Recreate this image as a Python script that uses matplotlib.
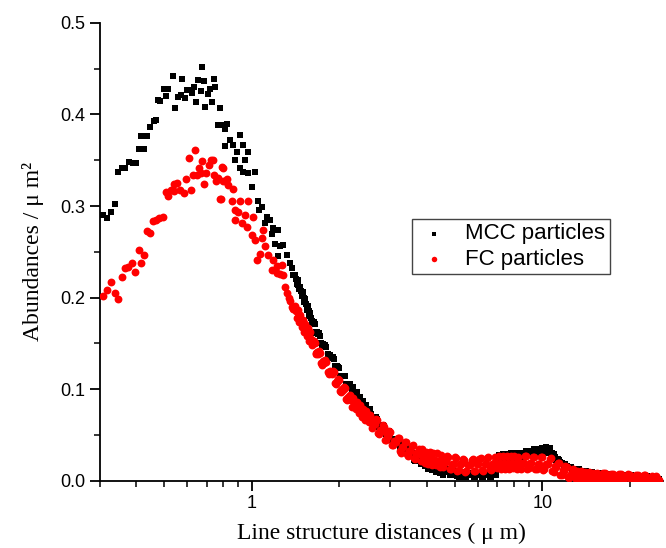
import matplotlib
matplotlib.use("Agg")
from matplotlib import pyplot as plt
from matplotlib import ticker
import numpy as np

# MCC particles, scattered part (x in um, y in 1/um^2)
mcc_x = [0.308, 0.318, 0.329, 0.338, 0.348, 0.358, 0.367, 0.379, 0.390, 0.401,
         0.409, 0.426, 0.417, 0.437, 0.448, 0.461, 0.470, 0.476, 0.486, 0.498,
         0.508, 0.518, 0.536, 0.546, 0.558, 0.573, 0.576, 0.591, 0.599, 0.612,
         0.625, 0.633, 0.645, 0.654, 0.675, 0.668, 0.686, 0.693, 0.708, 0.719,
         0.731, 0.742, 0.750, 0.776, 0.766, 0.791, 0.808, 0.812,
         0.825, 0.912, 0.843, 0.861, 0.936, 0.974, 0.889, 0.877, 0.949, 0.912,
         0.936, 0.974, 1.027, 1.001, 1.055, 1.083, 1.063, 1.127, 1.157, 1.112,
         1.188, 1.236, 1.173, 1.204, 1.253, 1.286, 1.236, 1.321, 1.356, 1.374,
         1.392]
mcc_y = [0.290, 0.287, 0.293, 0.302, 0.337, 0.341, 0.342, 0.348, 0.347, 0.347,
         0.362, 0.362, 0.376, 0.376, 0.386, 0.393, 0.394, 0.416, 0.415, 0.428,
         0.420, 0.428, 0.442, 0.407, 0.419, 0.421, 0.439, 0.418, 0.427, 0.427,
         0.423, 0.430, 0.414, 0.437, 0.452, 0.425, 0.436, 0.408, 0.422, 0.428,
         0.413, 0.439, 0.430, 0.407, 0.388, 0.388, 0.384, 0.366,
         0.390, 0.378, 0.372, 0.367, 0.367, 0.359, 0.359, 0.350, 0.350, 0.341,
         0.337, 0.336, 0.337, 0.321, 0.305, 0.299, 0.296, 0.288, 0.285, 0.281,
         0.276, 0.274, 0.270, 0.259, 0.256, 0.257, 0.245, 0.247, 0.238, 0.232,
         0.225]

# FC particles, scattered part
fc_x = [0.308, 0.318, 0.329, 0.338, 0.348, 0.358, 0.367, 0.377, 0.387, 0.398,
        0.409, 0.417, 0.428, 0.437, 0.448, 0.458, 0.470, 0.482, 0.495, 0.508,
        0.518, 0.529, 0.540, 0.555, 0.543, 0.566, 0.585, 0.596, 0.607, 0.617,
        0.628, 0.637, 0.650, 0.659, 0.671, 0.676, 0.686, 0.698, 0.713, 0.727,
        0.736, 0.742, 0.756, 0.766, 0.783, 0.797, 0.808,
        0.789, 0.799, 0.821, 0.831, 0.865, 0.778, 0.854, 0.912, 0.974, 0.877,
        0.900, 0.877, 0.949, 1.014, 0.925, 0.962, 1.001, 1.097, 1.027, 1.083,
        1.112, 1.069, 1.142, 1.041, 1.188, 1.173, 1.270, 1.220, 1.286, 1.220,
        1.250, 1.300, 1.321, 1.340, 1.360, 1.374, 1.390]
fc_y = [0.202, 0.208, 0.217, 0.205, 0.198, 0.222, 0.232, 0.233, 0.238, 0.228,
        0.252, 0.238, 0.246, 0.273, 0.271, 0.284, 0.285, 0.287, 0.288, 0.315,
        0.311, 0.317, 0.324, 0.325, 0.316, 0.317, 0.314, 0.330, 0.352, 0.317,
        0.334, 0.361, 0.334, 0.341, 0.336, 0.349, 0.324, 0.336, 0.345, 0.350,
        0.350, 0.334, 0.327, 0.331, 0.308, 0.341, 0.327,
        0.343, 0.327, 0.330, 0.323, 0.319, 0.308, 0.305, 0.305, 0.305, 0.296,
        0.294, 0.285, 0.290, 0.288, 0.281, 0.277, 0.268, 0.274, 0.263, 0.265,
        0.256, 0.248, 0.247, 0.241, 0.241, 0.230, 0.236, 0.227, 0.225, 0.234,
        0.226, 0.212, 0.205, 0.200, 0.196, 0.190, 0.188]

# dense tail, first pass of readings (same distances for both series)
x_tail = [1.41, 1.43, 1.45, 1.47, 1.49, 1.51, 1.53, 1.55, 1.57, 1.59,
          1.61, 1.63, 1.65, 1.67, 1.69, 1.72, 1.75, 1.78, 1.81, 1.84,
          1.87, 1.90, 1.93, 1.96, 1.99, 2.02, 2.05, 2.08, 2.11, 2.14,
          2.18, 2.22, 2.26, 2.30, 2.34, 2.38, 2.42, 2.46, 2.50, 2.55,
          2.60, 2.65, 2.70, 2.75, 2.80, 2.85, 2.90, 2.95, 3.00, 3.06,
          3.12, 3.18, 3.24, 3.30, 3.36, 3.42, 3.48, 3.55, 3.62, 3.69,
          3.76, 3.83, 3.90, 3.98, 4.06, 4.14, 4.22, 4.30, 4.39, 4.48,
          4.57, 4.66, 4.75, 4.85, 4.95, 5.05, 5.15, 5.26, 5.37, 5.48,
          5.59, 5.71, 5.83, 5.95, 6.07, 6.20, 6.33, 6.46, 6.59, 6.73,
          6.87, 7.01, 7.16, 7.31, 7.46, 7.62, 7.78, 7.94, 8.10, 8.27,
          8.44, 8.62, 8.80, 8.98, 9.17, 9.36, 9.56, 9.76, 9.96, 10.17,
          10.38, 10.60, 10.82, 11.05, 11.28, 11.52, 11.76, 12.01, 12.26, 12.52,
          12.78, 13.05, 13.32, 13.60, 13.89, 14.18, 14.48, 14.78, 15.09, 15.41,
          15.73, 16.06, 16.40, 16.75, 17.10, 17.46, 17.83, 18.20, 18.58, 18.97,
          19.37, 19.78, 20.20, 20.62, 21.05, 21.49, 21.94, 22.40, 22.87, 23.35,
          23.84, 24.34, 24.85]
mcc_tail = [0.225, 0.215, 0.214, 0.212, 0.202, 0.200, 0.198, 0.187, 0.185, 0.183,
            0.173, 0.172, 0.171, 0.161, 0.160, 0.158, 0.148, 0.147, 0.146, 0.136,
            0.135, 0.135, 0.125, 0.125, 0.124, 0.115, 0.115, 0.115, 0.106, 0.106,
            0.106, 0.097, 0.097, 0.097, 0.087, 0.087, 0.087, 0.078, 0.078, 0.078,
            0.068, 0.068, 0.068, 0.059, 0.059, 0.060, 0.051, 0.052, 0.052, 0.044,
            0.044, 0.044, 0.036, 0.037, 0.038, 0.030, 0.030, 0.031, 0.023, 0.024,
            0.025, 0.018, 0.019, 0.021, 0.013, 0.015, 0.017, 0.010, 0.012, 0.014,
            0.007, 0.010, 0.012, 0.006, 0.008, 0.011, 0.004, 0.007, 0.010, 0.004,
            0.006, 0.009, 0.004, 0.006, 0.009, 0.004, 0.006, 0.009, 0.004, 0.006,
            0.009, 0.026, 0.023, 0.029, 0.026, 0.024, 0.030, 0.027, 0.025, 0.031,
            0.028, 0.026, 0.033, 0.030, 0.028, 0.035, 0.031, 0.030, 0.036, 0.033,
            0.031, 0.036, 0.030, 0.026, 0.024, 0.021, 0.018, 0.018, 0.014, 0.015,
            0.012, 0.012, 0.013, 0.010, 0.011, 0.011, 0.008, 0.010, 0.009, 0.007,
            0.009, 0.008, 0.006, 0.008, 0.007, 0.005, 0.007, 0.006, 0.004, 0.006,
            0.005, 0.004, 0.006, 0.005, 0.003, 0.005, 0.004, 0.003, 0.005, 0.004,
            0.002, 0.004, 0.003]
fc_tail = [0.191, 0.178, 0.179, 0.181, 0.168, 0.170, 0.171, 0.158, 0.160, 0.162,
           0.148, 0.150, 0.151, 0.138, 0.139, 0.140, 0.127, 0.129, 0.130, 0.117,
           0.119, 0.120, 0.107, 0.109, 0.111, 0.098, 0.100, 0.102, 0.089, 0.092,
           0.094, 0.081, 0.084, 0.086, 0.074, 0.076, 0.079, 0.067, 0.070, 0.072,
           0.058, 0.062, 0.066, 0.051, 0.055, 0.059, 0.045, 0.049, 0.053, 0.039,
           0.043, 0.047, 0.033, 0.037, 0.042, 0.029, 0.033, 0.038, 0.025, 0.030,
           0.035, 0.022, 0.027, 0.032, 0.019, 0.024, 0.030, 0.017, 0.022, 0.028,
           0.015, 0.021, 0.026, 0.013, 0.019, 0.025, 0.012, 0.018, 0.023, 0.011,
           0.017, 0.023, 0.011, 0.018, 0.024, 0.012, 0.018, 0.025, 0.013, 0.019,
           0.026, 0.014, 0.020, 0.027, 0.013, 0.020, 0.027, 0.014, 0.020, 0.026,
           0.013, 0.020, 0.027, 0.014, 0.020, 0.026, 0.013, 0.019, 0.026, 0.013,
           0.019, 0.024, 0.011, 0.016, 0.020, 0.007, 0.012, 0.016, 0.004, 0.008,
           0.013, 0.002, 0.007, 0.011, 0.001, 0.006, 0.010, 0.001, 0.005, 0.009,
           0.001, 0.005, 0.009, 0.001, 0.005, 0.008, 0.001, 0.004, 0.008, 0.001,
           0.004, 0.008, 0.001, 0.004, 0.007, 0.001, 0.004, 0.006, 0.001, 0.003,
           0.005, 0.001, 0.003]

# dense tail, second pass of readings between the first ones
x_tail2 = [1.42, 1.44, 1.46, 1.48, 1.50, 1.52, 1.54, 1.56, 1.58, 1.60,
           1.62, 1.64, 1.66, 1.68, 1.705, 1.735, 1.765, 1.795, 1.825, 1.855,
           1.885, 1.915, 1.945, 1.975, 2.005, 2.035, 2.065, 2.095, 2.125, 2.16,
           2.20, 2.24, 2.28, 2.32, 2.36, 2.40, 2.44, 2.48, 2.525, 2.575,
           2.625, 2.675, 2.725, 2.775, 2.825, 2.875, 2.925, 2.975, 3.03, 3.09,
           3.15, 3.21, 3.27, 3.33, 3.39, 3.45, 3.515, 3.585, 3.655, 3.725,
           3.795, 3.865, 3.94, 4.02, 4.10, 4.18, 4.26, 4.345, 4.435, 4.525,
           4.615, 4.705, 4.80, 4.90, 5.00, 5.10, 5.205, 5.315, 5.425, 5.535,
           5.65, 5.77, 5.89, 6.01, 6.135, 6.265, 6.395, 6.525, 6.66, 6.80,
           6.94, 7.085, 7.235, 7.385, 7.54, 7.70, 7.86, 8.02, 8.185, 8.355,
           8.53, 8.71, 8.89, 9.075, 9.265, 9.46, 9.66, 9.86, 10.065, 10.275,
           10.49, 10.71, 10.935, 11.165, 11.40, 11.64, 11.885, 12.135, 12.39, 12.65,
           12.915, 13.185, 13.46, 13.745, 14.035, 14.33, 14.63, 14.935, 15.25, 15.57,
           15.895, 16.23, 16.575, 16.925, 17.28, 17.645, 18.015, 18.39, 18.775, 19.17,
           19.575, 19.99, 20.41, 20.835, 21.27, 21.715, 22.17, 22.635, 23.11, 23.595,
           24.09, 24.595, 25.1]
mcc_tail2 = [0.220, 0.219, 0.209, 0.207, 0.206, 0.195, 0.193, 0.191, 0.180, 0.178,
             0.174, 0.173, 0.163, 0.162, 0.161, 0.150, 0.149, 0.148, 0.138, 0.137,
             0.134, 0.133, 0.124, 0.123, 0.123, 0.114, 0.114, 0.114, 0.105, 0.105,
             0.102, 0.102, 0.093, 0.092, 0.092, 0.083, 0.083, 0.083, 0.074, 0.073,
             0.070, 0.070, 0.061, 0.061, 0.061, 0.053, 0.053, 0.054, 0.045, 0.046,
             0.043, 0.043, 0.035, 0.036, 0.037, 0.029, 0.029, 0.030, 0.022, 0.023,
             0.022, 0.023, 0.016, 0.017, 0.019, 0.012, 0.014, 0.016, 0.009, 0.011,
             0.010, 0.013, 0.006, 0.009, 0.011, 0.005, 0.007, 0.010, 0.004, 0.007,
             0.007, 0.009, 0.004, 0.007, 0.009, 0.004, 0.007, 0.009, 0.004, 0.007,
             0.007, 0.028, 0.024, 0.025, 0.029, 0.025, 0.026, 0.030, 0.026, 0.027,
             0.031, 0.027, 0.029, 0.033, 0.029, 0.031, 0.035, 0.031, 0.033, 0.037,
             0.033, 0.031, 0.029, 0.023, 0.023, 0.020, 0.016, 0.016, 0.015, 0.012,
             0.012, 0.013, 0.010, 0.011, 0.011, 0.009, 0.010, 0.009, 0.008, 0.009,
             0.008, 0.007, 0.007, 0.007, 0.006, 0.006, 0.006, 0.005, 0.006, 0.005,
             0.005, 0.005, 0.004, 0.005, 0.004, 0.004, 0.004, 0.003, 0.004, 0.003,
             0.003, 0.003, 0.002]
fc_tail2 = [0.185, 0.186, 0.173, 0.175, 0.176, 0.163, 0.165, 0.167, 0.153, 0.155,
            0.152, 0.153, 0.140, 0.141, 0.142, 0.129, 0.131, 0.132, 0.119, 0.120,
            0.117, 0.119, 0.106, 0.108, 0.110, 0.097, 0.099, 0.101, 0.088, 0.091,
            0.088, 0.090, 0.078, 0.080, 0.083, 0.070, 0.073, 0.076, 0.064, 0.066,
            0.063, 0.068, 0.052, 0.056, 0.061, 0.045, 0.050, 0.055, 0.039, 0.044,
            0.042, 0.047, 0.031, 0.037, 0.043, 0.027, 0.033, 0.039, 0.024, 0.030,
            0.029, 0.035, 0.020, 0.026, 0.032, 0.017, 0.023, 0.030, 0.015, 0.022,
            0.021, 0.027, 0.013, 0.019, 0.026, 0.011, 0.018, 0.024, 0.010, 0.017,
            0.017, 0.024, 0.011, 0.018, 0.025, 0.011, 0.019, 0.026, 0.012, 0.020,
            0.020, 0.027, 0.013, 0.020, 0.027, 0.013, 0.020, 0.027, 0.013, 0.020,
            0.020, 0.027, 0.013, 0.020, 0.026, 0.013, 0.019, 0.026, 0.012, 0.019,
            0.019, 0.025, 0.010, 0.015, 0.020, 0.006, 0.011, 0.015, 0.003, 0.008,
            0.007, 0.011, 0.002, 0.006, 0.010, 0.002, 0.006, 0.009, 0.002, 0.005,
            0.005, 0.009, 0.001, 0.005, 0.008, 0.001, 0.005, 0.008, 0.001, 0.004,
            0.004, 0.007, 0.001, 0.004, 0.007, 0.001, 0.004, 0.006, 0.001, 0.003,
            0.003, 0.005, 0.001]

y_ticks = [0.0, 0.1, 0.2, 0.3, 0.4, 0.5]

sans = "Liberation Sans"
serif = "Liberation Serif"

fig = plt.figure(figsize=(6.66, 5.48), dpi=100)
ax = fig.add_axes([0.1494, 0.1223, 0.8461, 0.8363])

ax.scatter(mcc_x + x_tail + x_tail2, mcc_y + mcc_tail + mcc_tail2, s=21,
           marker='s', color='black', linewidths=0, label='MCC particles',
           zorder=2)
ax.scatter(fc_x + x_tail + x_tail2, fc_y + fc_tail + fc_tail2, s=32,
           marker='o', color='red', linewidths=0, label='FC particles',
           zorder=3)

ax.set_xscale('log')
ax.set_xlim(0.3, 26)
ax.set_ylim(0, 0.5)
ax.set_yticks(y_ticks)
ax.yaxis.set_minor_locator(ticker.MultipleLocator(0.05))
ax.yaxis.set_major_formatter(ticker.FormatStrFormatter('%.1f'))
ax.xaxis.set_major_locator(ticker.FixedLocator([1, 10]))
ax.xaxis.set_major_formatter(ticker.FixedFormatter(['1', '10']))
ax.xaxis.set_minor_locator(ticker.LogLocator(base=10, subs=np.arange(2, 10)))
ax.xaxis.set_minor_formatter(ticker.NullFormatter())

for side in ['top', 'right']:
    ax.spines[side].set_visible(False)
for side in ['left', 'bottom']:
    ax.spines[side].set_linewidth(1.3)

ax.tick_params(which='major', direction='out', length=7, width=1.3, pad=3)
ax.tick_params(which='minor', direction='out', length=4, width=1.1)
for lab in ax.get_xticklabels() + ax.get_yticklabels():
    lab.set_fontfamily(sans)
    lab.set_fontsize(13)

ax.set_xlabel('Line structure distances ( \u03bc m)', fontfamily=serif,
              fontsize=17, labelpad=8)
ax.set_ylabel('Abundances / \u03bc m\u00b2', fontfamily=serif, fontsize=17,
              labelpad=12)

leg = ax.legend(loc='upper left', bbox_to_anchor=(412 / 666, 1 - 219 / 548),
                bbox_transform=fig.transFigure, prop={'family': sans, 'size': 16},
                frameon=True, fancybox=False, framealpha=1, edgecolor='#444444',
                borderpad=0.2, labelspacing=0.2, handletextpad=0.6,
                handlelength=1.6, markerscale=0.7, borderaxespad=0)
leg.get_frame().set_linewidth(1.0)

fig.savefig('out.png', dpi=100)
